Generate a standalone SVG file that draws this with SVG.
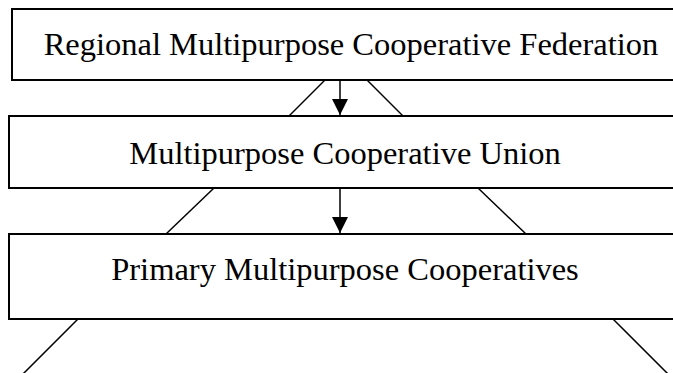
<svg xmlns="http://www.w3.org/2000/svg" width="673" height="373" viewBox="0 0 673 373">
<defs>
<style>
.box{fill:#fff;stroke:#000;stroke-width:2}
.lbl{font-family:"Liberation Serif","Times New Roman",serif;font-size:32.5px;fill:#000;text-anchor:middle}
.ln{stroke:#000;stroke-width:1.5;fill:none}
</style>
<marker id="ah" viewBox="0 0 16 16" refX="16" refY="8" markerWidth="16" markerHeight="16" markerUnits="userSpaceOnUse" orient="auto">
<path d="M0,0 L16,8 L0,16 Z" fill="#000"/>
</marker>
</defs>
<g id="connectors">
<line class="ln" x1="325" y1="80" x2="289" y2="116"/>
<line class="ln" x1="367" y1="80" x2="403" y2="116"/>
<line class="ln" x1="340" y1="66" x2="340" y2="115" marker-end="url(#ah)"/>
<line class="ln" x1="214" y1="188" x2="166" y2="234"/>
<line class="ln" x1="478" y1="188" x2="526" y2="234"/>
<line class="ln" x1="340" y1="186" x2="340" y2="233" marker-end="url(#ah)"/>
<line class="ln" x1="78" y1="319" x2="22" y2="375"/>
<line class="ln" x1="613" y1="319" x2="669" y2="375"/>
</g>
<g id="federation">
<rect class="box" x="12" y="9" width="700" height="71"/>
<text class="lbl" x="351" y="55">Regional Multipurpose Cooperative Federation</text>
</g>
<g id="union">
<rect class="box" x="9" y="116" width="700" height="72"/>
<text class="lbl" x="345" y="164">Multipurpose Cooperative Union</text>
</g>
<g id="primary">
<rect class="box" x="9" y="234" width="700" height="85"/>
<text class="lbl" x="345" y="280">Primary Multipurpose Cooperatives</text>
</g>
</svg>
